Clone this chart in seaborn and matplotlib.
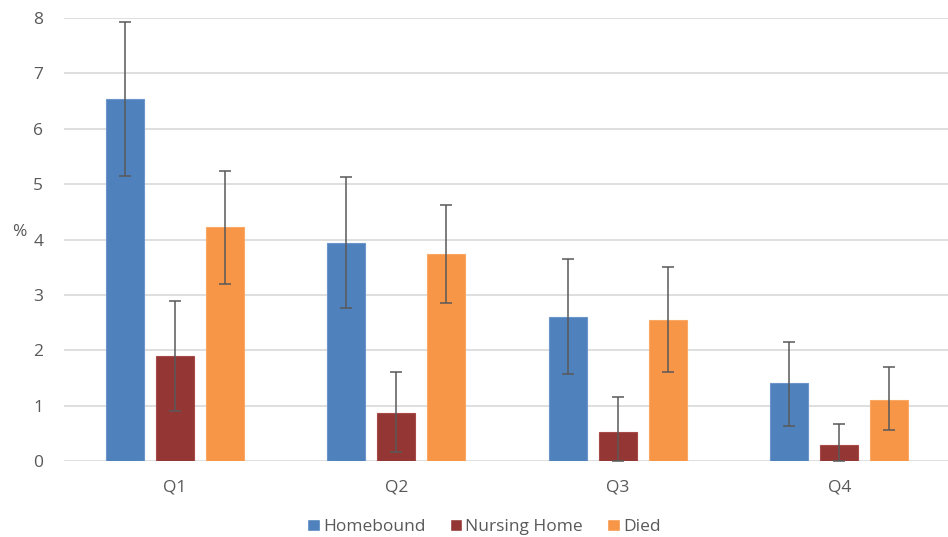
import matplotlib
matplotlib.use("Agg")
import matplotlib.pyplot as plt
import seaborn as sns
import pandas as pd
import numpy as np

categories = ["Q1", "Q2", "Q3", "Q4"]
series = ["Homebound", "Nursing Home", "Died"]
homebound = [6.53, 3.93, 2.60, 1.40]
homebound_lo = [5.15, 2.76, 1.58, 0.63]
homebound_hi = [7.92, 5.12, 3.64, 2.15]
nursing = [1.90, 0.86, 0.52, 0.29]
nursing_lo = [0.90, 0.16, 0.0, 0.0]
nursing_hi = [2.89, 1.60, 1.16, 0.66]
died = [4.22, 3.73, 2.54, 1.11]
died_lo = [3.19, 2.85, 1.60, 0.56]
died_hi = [5.23, 4.62, 3.50, 1.70]
y_ticks = [0, 1, 2, 3, 4, 5, 6, 7, 8]

colors = ["#4F81BD", "#943634", "#F79646"]
edge_colors = ["#6C96CB", "#A84A48", "#F9A865"]
text_color = "#595959"

sns.set_theme(style="white")
plt.rcParams['font.family'] = ['Open Sans', 'DejaVu Sans']

rows = []
for s, vals, lo, hi in [(series[0], homebound, homebound_lo, homebound_hi),
                        (series[1], nursing, nursing_lo, nursing_hi),
                        (series[2], died, died_lo, died_hi)]:
    for c, v, l, h in zip(categories, vals, lo, hi):
        rows.append({"Quartile": c, "Series": s, "Value": v, "Lo": l, "Hi": h})
df = pd.DataFrame(rows)

fig = plt.figure(figsize=(9.48, 5.37), dpi=100)
ax = fig.add_axes([64/948, 1 - 461/537, (950-64)/948, (461-18)/537])

sns.barplot(data=df, x="Quartile", y="Value", hue="Series", order=categories,
            hue_order=series, palette=colors, saturation=1, width=0.675, gap=0.24,
            errorbar=None, ax=ax, legend=True, zorder=2)

# error bars from bar positions
for si, s in enumerate(series):
    cont = ax.containers[si]
    sub = df[df["Series"] == s].set_index("Quartile").loc[categories]
    xs = [p.get_x() + p.get_width() / 2 for p in cont.patches]
    vals = sub["Value"].values
    yerr = np.vstack([vals - sub["Lo"].values, sub["Hi"].values - vals])
    ax.errorbar(xs, vals, yerr=yerr, fmt="none", ecolor="#595959",
                elinewidth=1.1, capsize=4.5, capthick=1.1, zorder=3)
    for p in cont.patches:
        p.set_edgecolor(edge_colors[si])
        p.set_linewidth(0.8)

ax.set_ylim(0, 8)
ax.set_xlim(-0.5, 3.5)
ax.set_yticks(y_ticks)
ax.set_yticklabels([str(t) for t in y_ticks], color=text_color, fontsize=12.5)
ax.tick_params(axis="x", colors=text_color, labelsize=12.5, length=0, pad=13)
ax.tick_params(axis="y", length=0, pad=15)
ax.yaxis.grid(True, color="#D9D9D9", linewidth=1.2, zorder=0)
ax.set_axisbelow(True)
for sp in ax.spines.values():
    sp.set_visible(False)
ax.set_xlabel("")
ax.set_ylabel("%", rotation=0, color=text_color, fontsize=12.5, labelpad=6)
ax.yaxis.set_label_coords(-0.05, 0.5)

handles, labels = ax.get_legend_handles_labels()
ax.legend_.remove()
fig.legend(handles, labels, loc="center", bbox_to_anchor=(484/948, 1 - 527/537),
           ncol=3, frameon=False, fontsize=12.5, handlelength=0.7, handleheight=0.7,
           handletextpad=0.2, columnspacing=1.4, labelcolor=text_color)

fig.savefig("out.png", dpi=100)
